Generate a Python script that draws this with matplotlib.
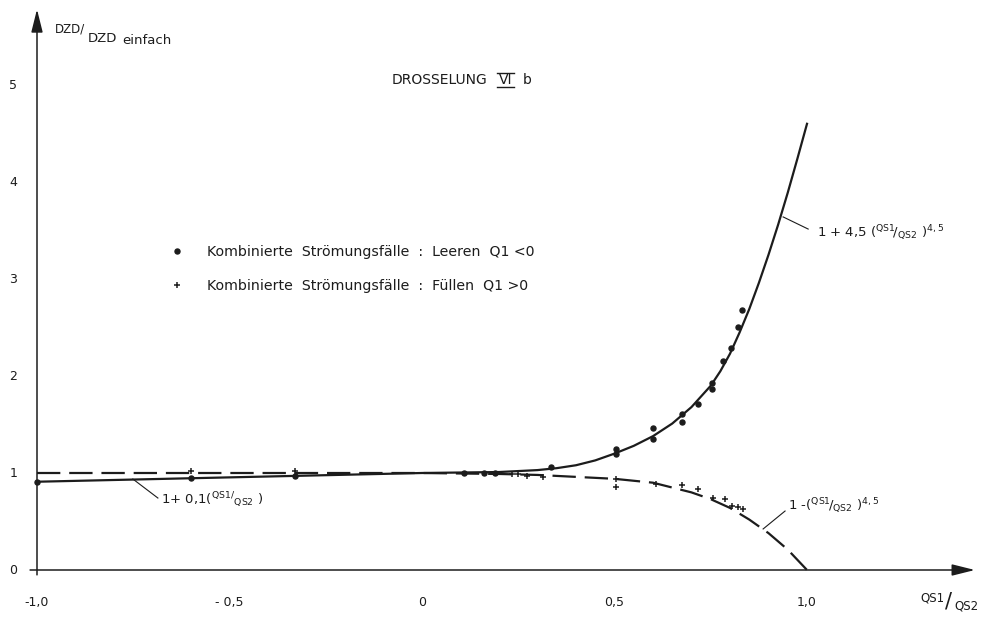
import matplotlib
matplotlib.use("Agg")
import matplotlib.pyplot as plt
from matplotlib.lines import Line2D

# fitted curves
solid_x = [-1.0, -0.5, 0.0, 0.2, 0.25, 0.3, 0.35, 0.4, 0.45, 0.5, 0.55, 0.6, 0.65,
           0.7, 0.75, 0.775, 0.8, 0.825, 0.85, 0.875, 0.9, 0.925, 0.95, 0.975, 1.0]
solid_y = [0.91, 0.955, 1.0, 1.01, 1.02, 1.03, 1.05, 1.08, 1.13, 1.2, 1.28, 1.38, 1.51,
           1.68, 1.9, 2.05, 2.23, 2.45, 2.69, 2.96, 3.25, 3.56, 3.89, 4.24, 4.6]

dash_x = [-1.0, -0.5, 0.0, 0.2, 0.3, 0.4, 0.5, 0.6, 0.7, 0.75, 0.8, 0.85, 0.9, 0.95, 1.0]
dash_y = [1.0, 1.0, 1.0, 0.99, 0.98, 0.96, 0.94, 0.9, 0.8, 0.73, 0.64, 0.52, 0.38, 0.21, 0.0]

# measured points
leeren_x = [-1.0, -0.6, -0.33, 0.11, 0.16, 0.19, 0.334, 0.505, 0.505, 0.6, 0.6,
            0.675, 0.675, 0.716, 0.752, 0.752, 0.783, 0.803, 0.822, 0.832]
leeren_y = [0.91, 0.945, 0.965, 1.0, 1.0, 1.0, 1.06, 1.25, 1.2, 1.46, 1.35,
            1.61, 1.53, 1.71, 1.93, 1.87, 2.15, 2.29, 2.51, 2.68]

fuellen_x = [-0.6, -0.33, 0.235, 0.25, 0.272, 0.313, 0.505, 0.505, 0.608, 0.675,
             0.718, 0.755, 0.787, 0.806, 0.82, 0.835]
fuellen_y = [1.02, 1.02, 0.99, 0.99, 0.97, 0.96, 0.935, 0.86, 0.89, 0.877,
             0.835, 0.745, 0.73, 0.66, 0.645, 0.628]

xticks = [-1.0, -0.5, 0.0, 0.5, 1.0]
xtick_labels = ["-1,0", "- 0,5", "0", "0,5", "1,0"]
yticks = [0, 1, 2, 3, 4, 5]
ytick_labels = ["0", "1", "2", "3", "4", "5"]

plt.rcParams['font.family'] = 'DejaVu Sans'
plt.rcParams['mathtext.default'] = 'regular'
ink = '#1c1c1c'

fig = plt.figure(figsize=(9.88, 6.17), dpi=100)
ax = fig.add_axes([0, 0, 1, 1])
ax.set_xlim(-1.0961, 1.4701)
ax.set_ylim(-0.4845, 5.8763)
ax.axis('off')

# axes with arrow heads
ax.annotate('', xy=(-1.0, 5.78), xytext=(-1.0, -0.05),
            arrowprops=dict(arrowstyle='-|>,head_length=1.0,head_width=0.25',
                            mutation_scale=14, lw=1.1, color=ink, shrinkA=0, shrinkB=0))
ax.annotate('', xy=(1.436, 0.0), xytext=(-1.018, 0.0),
            arrowprops=dict(arrowstyle='-|>,head_length=1.0,head_width=0.25',
                            mutation_scale=14, lw=1.1, color=ink, shrinkA=0, shrinkB=0))

for v, s in zip(xticks, xtick_labels):
    ax.text(v, -0.33, s, ha='center', va='center', fontsize=9, color=ink)
for v, s in zip(yticks, ytick_labels):
    ax.text(-1.062, v, s, ha='center', va='center', fontsize=9, color=ink)

# curves
ax.plot(solid_x, solid_y, color=ink, lw=1.6, solid_joinstyle='round')
ax.plot(dash_x, dash_y, color=ink, lw=1.6, linestyle=(0, (10.5, 4.0)))

# points
h1, = ax.plot(leeren_x, leeren_y, 'o', ms=3.6, color=ink, ls='none')
h2, = ax.plot(fuellen_x, fuellen_y, '+', ms=4.8, mew=1.1, color=ink, ls='none')

ax.legend([h1, h2],
          ["Kombinierte  Strömungsfälle  :  Leeren  Q1 <0",
           "Kombinierte  Strömungsfälle  :  Füllen  Q1 >0"],
          loc='upper left', bbox_to_anchor=(0.172, 0.603), frameon=False,
          borderpad=0, borderaxespad=0, handlelength=1.0, handletextpad=1.6,
          labelspacing=1.4, fontsize=10.2, labelcolor=ink)

# title with roman numeral
ax.text(-0.078, 5.05, "DROSSELUNG", ha='left', va='center', fontsize=10, color=ink)
ax.text(0.200, 5.05, "VI", ha='left', va='center', fontsize=10, color=ink)
ax.text(0.262, 5.05, "b", ha='left', va='center', fontsize=10, color=ink)
fig.add_artist(Line2D([497 / 988, 514 / 988], [1 - 73 / 617, 1 - 73 / 617], lw=1.0, color=ink))
fig.add_artist(Line2D([497 / 988, 514 / 988], [1 - 87 / 617, 1 - 87 / 617], lw=1.0, color=ink))

# y axis label
ax.text(-0.953, 5.546, "DZD/", ha='left', va='baseline', fontsize=8.5, color=ink)
ax.text(-0.868, 5.443, "DZD", ha='left', va='baseline', fontsize=9.5, color=ink)
ax.text(-0.779, 5.423, "einfach", ha='left', va='baseline', fontsize=9.5, color=ink)

# x axis label
ax.text(1.2935, -0.29, "QS1", ha='left', va='center', fontsize=8.5, color=ink)
ax.text(1.3584, -0.32, "/", ha='left', va='center', fontsize=15, color=ink)
ax.text(1.3818, -0.37, "QS2", ha='left', va='center', fontsize=8.5, color=ink)

# curve labels with leader lines
ax.plot([-0.751, -0.686], [0.938, 0.742], color=ink, lw=0.8)
ax.text(-0.678, 0.72, r"1+ 0,1(${}^{QS1/}{}_{QS2}$ )", ha='left', va='center',
        fontsize=9.5, color=ink)
ax.plot([0.938, 1.003], [3.64, 3.515], color=ink, lw=0.8)
ax.text(1.026, 3.47, r"1 + 4,5 (${}^{QS1}\!/_{QS2}$ )$^{4,5}$", ha='left', va='center',
        fontsize=9.5, color=ink)
ax.plot([0.886, 0.943], [0.423, 0.608], color=ink, lw=0.8)
ax.text(0.951, 0.66, r"1 -(${}^{QS1}\!/_{QS2}$ )$^{4,5}$", ha='left', va='center',
        fontsize=9.5, color=ink)

fig.savefig("out.png", dpi=100, facecolor='white')
